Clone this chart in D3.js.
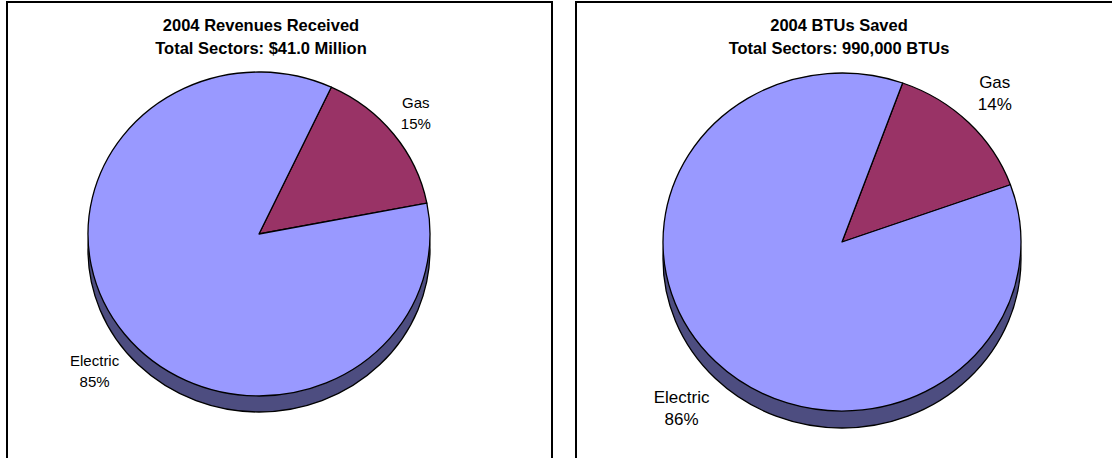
<!DOCTYPE html>
<html>
<head>
<meta charset="utf-8">
<script src="https://cdn.jsdelivr.net/npm/d3@7"></script>
<style>
  html, body { margin: 0; padding: 0; background: #fff; }
  svg { display: block; font-family: "Liberation Sans", Arial, sans-serif; }
</style>
</head>
<body>
<svg id="chart" width="1112" height="458"></svg>
<script>
// Sector shares, in percent
const categories = ["Gas", "Electric"];
const revenueShares = [15, 85];
const btuShares = [14, 86];
const titlesRevenue = ["2004 Revenues Received", "Total Sectors: $41.0 Million"];
const titlesBtu = ["2004 BTUs Saved", "Total Sectors: 990,000 BTUs"];

const colors = { Gas: "#993366", Electric: "#9999FF" };
const sideColor = "#4D4D80";

const svg = d3.select("#chart");

const panels = [
  { values: revenueShares, titles: titlesRevenue,
    box: [7, 2, 545, 480], cx: 259, cy: 234, rx: 171, ry: 162, depth: 16,
    start: 25, gap: 13, font: 15, lineH: 21, titleX: 261 },
  { values: btuShares, titles: titlesBtu,
    box: [576, 2, 560, 480], cx: 842, cy: 242, rx: 179, ry: 169, depth: 17,
    start: 19.8, gap: 20, font: 17, lineH: 22, titleX: 839 }
];

panels.forEach(p => {
  const g = svg.append("g");

  // frame
  g.append("rect")
    .attr("x", p.box[0]).attr("y", p.box[1])
    .attr("width", p.box[2]).attr("height", p.box[3])
    .attr("fill", "#fff").attr("stroke", "#000").attr("stroke-width", 2);

  // two-line bold title
  g.selectAll("text.title").data(p.titles).join("text")
    .attr("class", "title")
    .attr("x", p.titleX)
    .attr("y", (d, i) => 30.5 + i * 23.5)
    .attr("text-anchor", "middle")
    .attr("font-weight", "bold")
    .attr("font-size", 16.5)
    .attr("fill", "#000")
    .text(d => d);

  const data = categories.map((c, i) => ({ name: c, value: p.values[i] }));
  const pie = d3.pie().sort(null).value(d => d.value)
    .startAngle(p.start * Math.PI / 180)
    .endAngle(p.start * Math.PI / 180 + 2 * Math.PI);
  const arcs = pie(data);

  // pie drawn as a circle of radius rx, squashed vertically into an ellipse
  const arc = d3.arc().innerRadius(0).outerRadius(p.rx);
  const sy = p.ry / p.rx;

  // extruded side (thickness of the tilted disc)
  g.append("g")
    .attr("transform", `translate(${p.cx},${p.cy + p.depth}) scale(1,${sy})`)
    .append("path")
    .attr("d", d3.arc().innerRadius(0).outerRadius(p.rx)({ startAngle: 0, endAngle: 2 * Math.PI }))
    .attr("fill", sideColor)
    .attr("stroke", "#000").attr("stroke-width", 1.3)
    .attr("vector-effect", "non-scaling-stroke");

  // top face slices
  g.append("g")
    .attr("transform", `translate(${p.cx},${p.cy}) scale(1,${sy})`)
    .selectAll("path").data(arcs).join("path")
    .attr("d", arc)
    .attr("fill", d => colors[d.data.name])
    .attr("stroke", "#000").attr("stroke-width", 1.3)
    .attr("stroke-linejoin", "round")
    .attr("vector-effect", "non-scaling-stroke");

  // data labels placed just outside the rim at each slice's mid angle
  arcs.forEach(d => {
    const a = (d.startAngle + d.endAngle) / 2;
    const s = Math.sin(a), c = Math.cos(a);
    const lines = [d.data.name, d.data.value + "%"];
    const t = g.append("text")
      .attr("text-anchor", "middle")
      .attr("font-size", p.font)
      .attr("fill", "#000");
    lines.forEach((l, i) => t.append("tspan").text(l));
    // measure label block width
    const w = d3.max(t.selectAll("tspan").nodes(), n => n.getComputedTextLength());
    const h = p.lineH * 2;
    const px = p.cx + (p.rx + p.gap) * s + (w / 2) * s;
    const py = p.cy - (p.ry + p.gap) * c - (h / 2) * c + (c < 0 ? p.depth : 0);
    t.selectAll("tspan")
      .attr("x", px)
      .attr("y", (l, i) => py - p.lineH / 2 + i * p.lineH + p.font * 0.36);
  });
});
</script>
</body>
</html>
